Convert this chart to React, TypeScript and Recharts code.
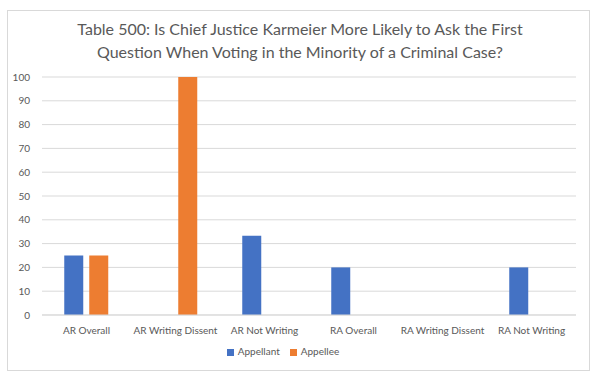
import { BarChart, Bar, XAxis, YAxis, CartesianGrid, Legend } from 'recharts'

const categories = ['AR Overall', 'AR Writing Dissent', 'AR Not Writing', 'RA Overall', 'RA Writing Dissent', 'RA Not Writing']
const appellant = [25, null, 33.3, 20, null, 20]
const appellee = [25, 100, null, null, null, null]
const yTicks = [0, 10, 20, 30, 40, 50, 60, 70, 80, 90, 100]

const data = categories.map((c, i) => ({ name: c, Appellant: appellant[i], Appellee: appellee[i] }))

const FONT = 'Lato, "Noto Sans", sans-serif'
const TICK = { fontSize: 10, fill: '#595959', fontFamily: FONT }

export default function App() {
  return (
    <div style={{ position: 'absolute', left: 0, top: 0, width: 600, height: 381, background: '#fff', fontFamily: FONT }}>
      <div style={{ position: 'absolute', left: 7, top: 10, width: 583, height: 361, border: '1px solid #d9d9d9', boxSizing: 'border-box' }} />
      <div style={{ position: 'absolute', left: 0, top: 17, width: 600, textAlign: 'center', fontSize: 16, lineHeight: '23px', color: '#595959' }}>
        Table 500: Is Chief Justice Karmeier More Likely to Ask the First<br />
        Question When Voting in the Minority of a Criminal Case?
      </div>
      <div style={{ position: 'absolute', left: 0, top: 0 }}>
        <BarChart width={600} height={381} data={data} margin={{ top: 77, right: 24, bottom: 24, left: 0 }}
          barCategoryGap="25%" barGap={6}>
          <CartesianGrid vertical={false} stroke="#d9d9d9" />
          <XAxis dataKey="name" tick={TICK} tickLine={false} axisLine={{ stroke: '#d9d9d9' }} interval={0} tickMargin={6} height={30} />
          <YAxis domain={[0, 100]} ticks={yTicks} tick={TICK} tickLine={false} axisLine={false} width={42} interval={0} tickMargin={6} />
          <Legend verticalAlign="bottom" iconType="square" iconSize={7}
            wrapperStyle={{ fontSize: 10, fontFamily: FONT, color: '#595959' }}
            formatter={(v: string) => <span style={{ color: '#595959' }}>{v}</span>} />
          <Bar dataKey="Appellant" fill="#4472C4" isAnimationActive={false} />
          <Bar dataKey="Appellee" fill="#ED7D31" isAnimationActive={false} />
        </BarChart>
      </div>
    </div>
  )
}
